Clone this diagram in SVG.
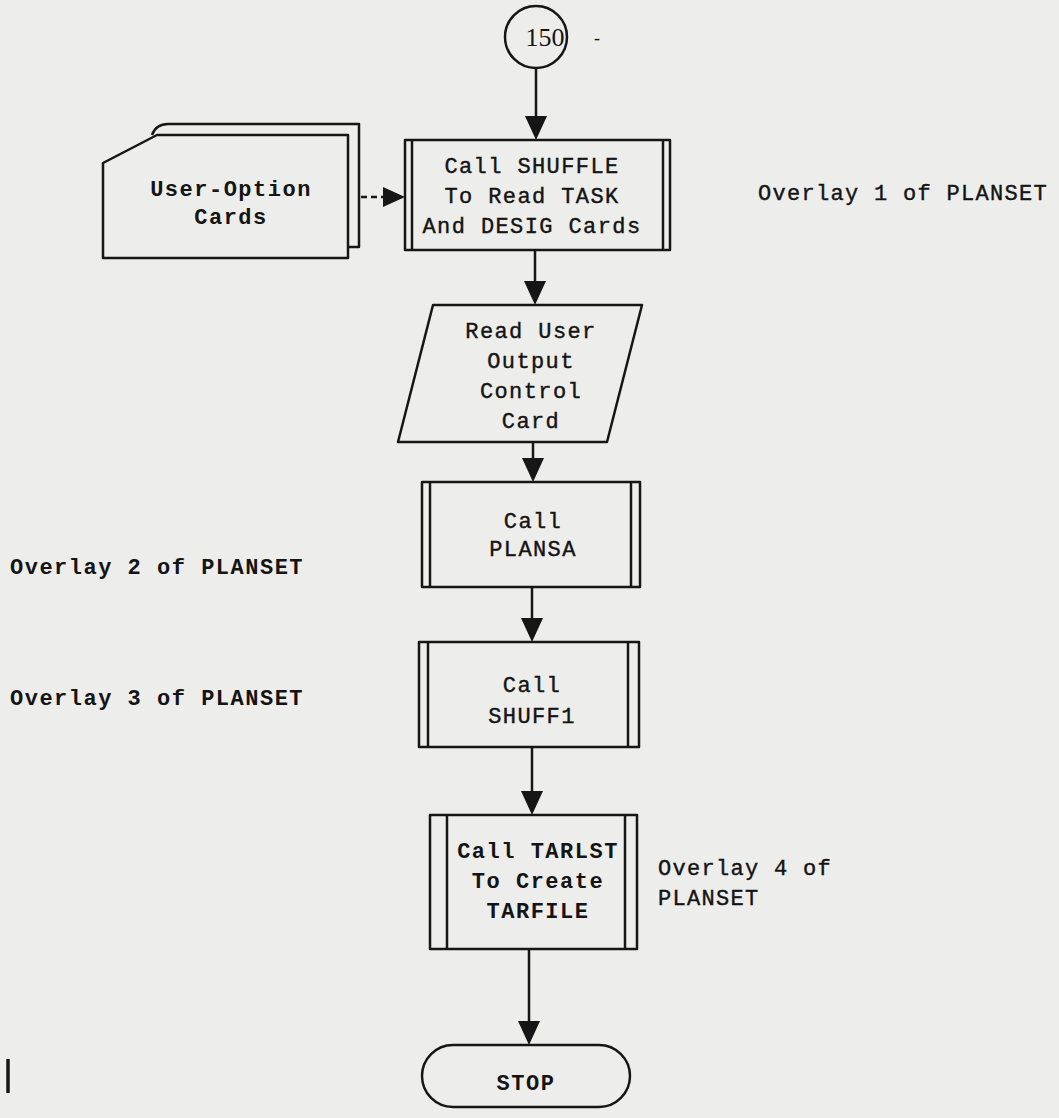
<svg xmlns="http://www.w3.org/2000/svg" width="1059" height="1118" viewBox="0 0 1059 1118">
<defs>
<path id="ah" d="M-11,-24 L11,-24 L0,0 Z" fill="#161616"/>
<style>
.s{fill:none;stroke:#161616;stroke-width:2.5;stroke-linejoin:round}
.f{fill:#ededeb;stroke:#161616;stroke-width:2.5;stroke-linejoin:round}
.t{font-family:"Liberation Mono",monospace;font-size:22px;letter-spacing:1.4px;fill:#141414;stroke:#141414;stroke-width:0.4;text-anchor:middle}
.b{font-family:"Liberation Mono",monospace;font-size:22px;font-weight:bold;letter-spacing:1.5px;fill:#141414}
.c{text-anchor:middle}
.l{font-family:"Liberation Mono",monospace;font-size:22px;letter-spacing:1.3px;fill:#141414;stroke:#141414;stroke-width:0.4}
</style>
</defs>
<rect width="1059" height="1118" fill="#ededeb"/>

<g id="connectors">
<line class="s" x1="536" y1="68" x2="536" y2="120"/>
<use href="#ah" x="536" y="140"/>
<line class="s" x1="535" y1="250" x2="535" y2="285"/>
<use href="#ah" x="535" y="305"/>
<line class="s" x1="533" y1="442" x2="533" y2="462"/>
<use href="#ah" x="533" y="482"/>
<line class="s" x1="532" y1="587" x2="532" y2="622"/>
<use href="#ah" x="532" y="642"/>
<line class="s" x1="532" y1="747" x2="532" y2="795"/>
<use href="#ah" x="532" y="815"/>
<line class="s" x1="529" y1="949" x2="529" y2="1025"/>
<use href="#ah" x="529" y="1045"/>
<line class="s" x1="361" y1="197" x2="384" y2="197" stroke-dasharray="6,4"/>
<path d="M383,187 L405,197 L383,207 Z" fill="#161616"/>
</g>

<g id="n150">
<circle class="s" cx="536" cy="37" r="31"/>
<text x="545" y="46" style="font-family:'Liberation Serif',serif;font-size:26px;fill:#141414;text-anchor:middle">150</text>
<text x="594" y="44" style="font-family:'Liberation Serif',serif;font-size:18px;fill:#141414">-</text>
</g>

<g id="cards">
<path class="f" d="M152,135 Q156,124 168,124 L359,124 L359,247 L348,247"/>
<path class="f" d="M103,163 L157,135 L348,135 L348,258 L103,258 Z"/>
<text class="b c" x="231" y="196" text-anchor="middle">User-Option</text>
<text class="b c" x="231" y="224" text-anchor="middle">Cards</text>
</g>

<g id="shuffle">
<rect class="f" x="405" y="140" width="265" height="110"/>
<line class="s" x1="412" y1="140" x2="412" y2="250"/>
<line class="s" x1="663" y1="140" x2="663" y2="250"/>
<text class="t" x="532" y="173">Call SHUFFLE</text>
<text class="t" x="532" y="203">To Read TASK</text>
<text class="t" x="532" y="233">And DESIG Cards</text>
</g>

<g id="readcard">
<path class="f" d="M433,305 L642,305 L607,442 L398,442 Z"/>
<text class="t" x="531" y="338">Read User</text>
<text class="t" x="531" y="368">Output</text>
<text class="t" x="531" y="398">Control</text>
<text class="t" x="531" y="428">Card</text>
</g>

<g id="plansa">
<rect class="f" x="422" y="482" width="218" height="105"/>
<line class="s" x1="430" y1="482" x2="430" y2="587"/>
<line class="s" x1="631" y1="482" x2="631" y2="587"/>
<text class="t" x="533" y="528">Call</text>
<text class="t" x="533" y="556">PLANSA</text>
</g>

<g id="shuff1">
<rect class="f" x="419" y="642" width="220" height="105"/>
<line class="s" x1="428" y1="642" x2="428" y2="747"/>
<line class="s" x1="628" y1="642" x2="628" y2="747"/>
<text class="t" x="532" y="692">Call</text>
<text class="t" x="532" y="723">SHUFF1</text>
</g>

<g id="tarlst">
<rect class="f" x="430" y="815" width="207" height="134"/>
<line class="s" x1="447" y1="815" x2="447" y2="949"/>
<line class="s" x1="625" y1="815" x2="625" y2="949"/>
<text class="b c" x="538" y="858" text-anchor="middle">Call TARLST</text>
<text class="b c" x="538" y="888" text-anchor="middle">To Create</text>
<text class="b c" x="538" y="918" text-anchor="middle">TARFILE</text>
</g>

<g id="stop">
<rect class="f" x="422" y="1045" width="208" height="62" rx="31" ry="31"/>
<text class="b c" x="526" y="1090" text-anchor="middle">STOP</text>
</g>

<g id="labels">
<text class="l" x="758" y="200">Overlay 1 of PLANSET</text>
<text class="b" x="10" y="574">Overlay 2 of PLANSET</text>
<text class="b" x="10" y="705">Overlay 3 of PLANSET</text>
<text class="l" x="658" y="875">Overlay 4 of</text>
<text class="l" x="658" y="905">PLANSET</text>
<line x1="8" y1="1059" x2="8" y2="1093" stroke="#161616" stroke-width="3.5"/>
</g>
</svg>
